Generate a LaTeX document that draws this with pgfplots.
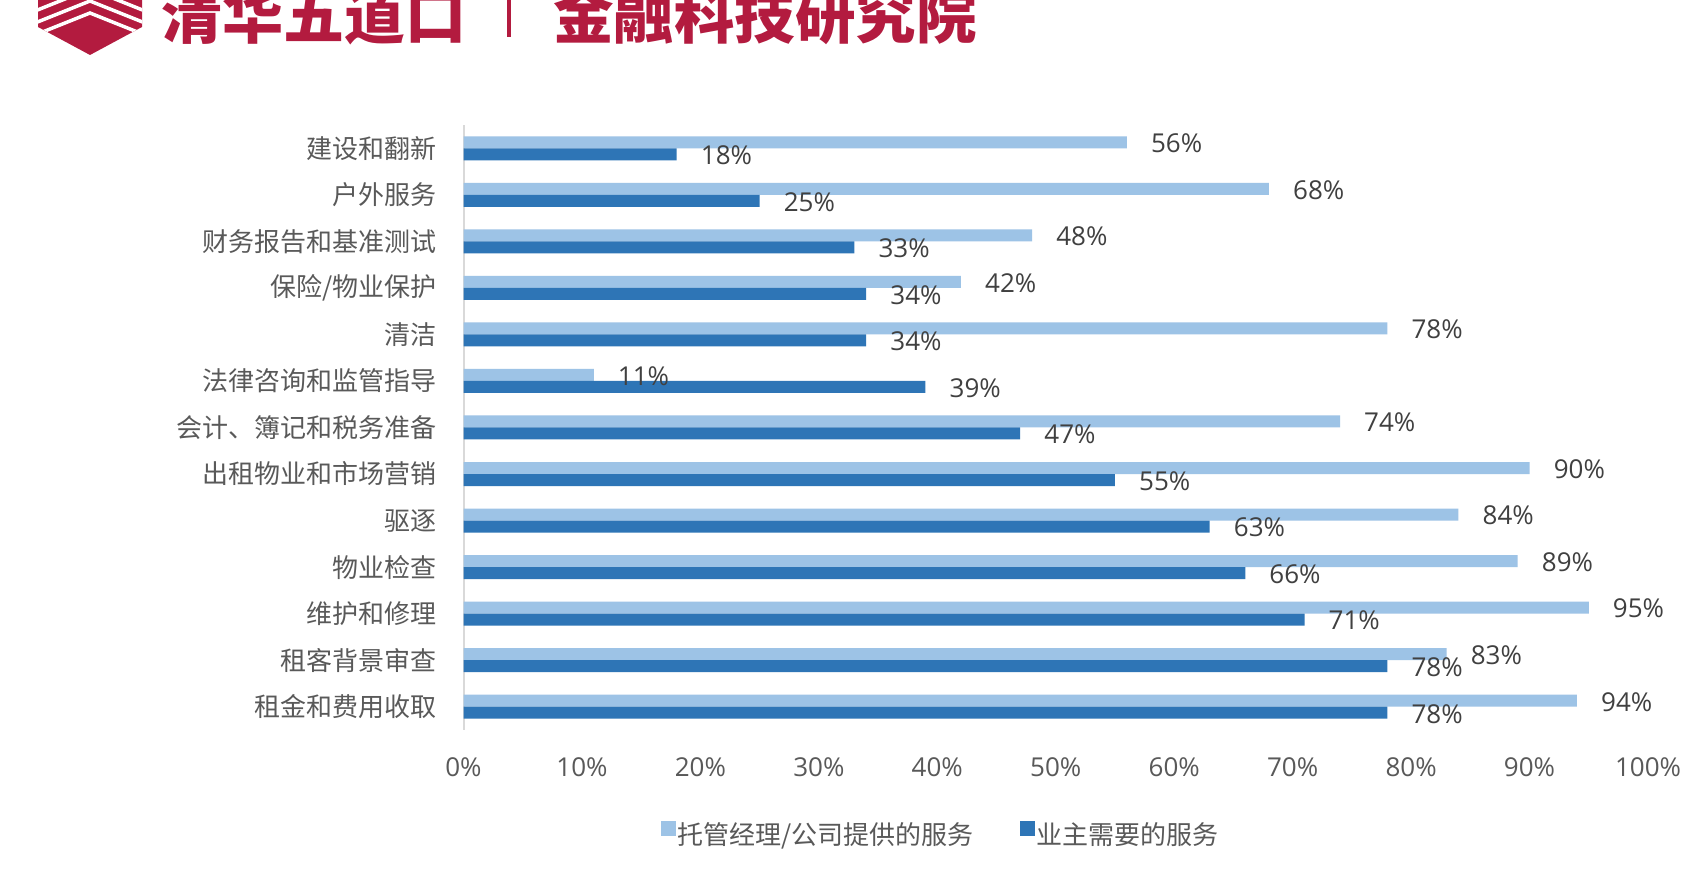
\documentclass[border=0pt]{standalone}
\usepackage{pgfplots}
\pgfplotsset{compat=1.18}
\usepackage{fontspec}
\setmainfont{Noto Sans CJK SC}
\newfontfamily\numfont{Open Sans}
\definecolor{lightbar}{HTML}{9DC3E6}
\definecolor{darkbar}{HTML}{2E75B6}
\definecolor{txt}{HTML}{404040}
\definecolor{ticktxt}{HTML}{595959}
\definecolor{brand}{HTML}{B31B3F}
\definecolor{axisgrey}{HTML}{D9D9D9}
\newcommand\fs{\fontsize{26}{31}\selectfont}
\begin{document}
\begin{tikzpicture}[x=1pt,y=1pt]
\clip (0,0) rectangle (1698,869);
\fill[white] (0,0) rectangle (1698,869);
\useasboundingbox (0,0) rectangle (1698,869);
% header logo
\begin{scope}
\clip (38,880) -- (38,842) -- (90,814) -- (142,842) -- (142,880) -- cycle;
\fill[brand] (30,800) rectangle (150,880);
\foreach \a in {856,868,880}{
  \draw[white, line width=3.5pt] (20,{\a-28}) -- (90,\a) -- (160,{\a-28});
}
\end{scope}
\node[anchor=base west, inner sep=0pt, text=brand, font=\bfseries\fontsize{61}{70}\selectfont] at (161,830.5) {清华五道口};
\draw[brand, line width=4.5pt] (509,869) -- (509,832);
\node[anchor=base west, inner sep=0pt, text=brand, font=\bfseries\fontsize{60.5}{70}\selectfont] at (553,830.5) {金融科技研究院};
\begin{axis}[
  at={(463.5pt,139pt)}, anchor=south west,
  width=1184.5pt, height=605pt, scale only axis,
  xbar, bar width=12pt,
  xmin=0, xmax=100, ymin=-0.5, ymax=12.5,
  axis x line*=bottom, axis y line*=left,
  x axis line style={draw=none},
  y axis line style={draw=axisgrey, line width=2pt},
  major tick length=0pt,
  xtick={0,10,...,100},
  xticklabel={\pgfmathprintnumber{\tick}\%},
  /pgf/number format/assume math mode=true,
  xticklabel style={font=\numfont\fs, text=ticktxt, anchor=north, inner sep=0pt, yshift=-27pt},
  ytick={0,...,12},
  yticklabels={租金和费用收取,租客背景审查,维护和修理,物业检查,驱逐,出租物业和市场营销,会计、簿记和税务准备,法律咨询和监管指导,清洁,保险/物业保护,财务报告和基准测试,户外服务,建设和翻新},
  yticklabel style={font=\fs, text=ticktxt, anchor=east, inner sep=0pt, xshift=-27pt},
  point meta=x,
  nodes near coords={\pgfmathprintnumber{\pgfplotspointmeta}\%},
  every node near coord/.append style={font=\numfont\fs, text=txt, anchor=west, inner sep=0pt, xshift=24pt, yshift=-1pt},
  legend columns=2,
  legend style={at={(axis description cs:0.403,-0.172)}, anchor=center, draw=none, fill=none, font=\fs, text=ticktxt, inner sep=0pt,
    /tikz/every even column/.append style={column sep=44pt}},
  legend image code/.code={\fill[#1] (0pt,-2pt) rectangle (15pt,13pt);},
]
\addplot[draw=none, fill=lightbar, bar shift=6pt] coordinates {
(94,0) (83,1) (95,2) (89,3) (84,4) (90,5) (74,6) (11,7) (78,8) (42,9) (48,10) (68,11) (56,12)};
\addlegendentry{托管经理/公司提供的服务}
\addplot[draw=none, fill=darkbar, bar shift=-6pt] coordinates {
(78,0) (78,1) (71,2) (66,3) (63,4) (55,5) (47,6) (39,7) (34,8) (34,9) (33,10) (25,11) (18,12)};
\addlegendentry{业主需要的服务}
\end{axis}
\end{tikzpicture}
\end{document}
